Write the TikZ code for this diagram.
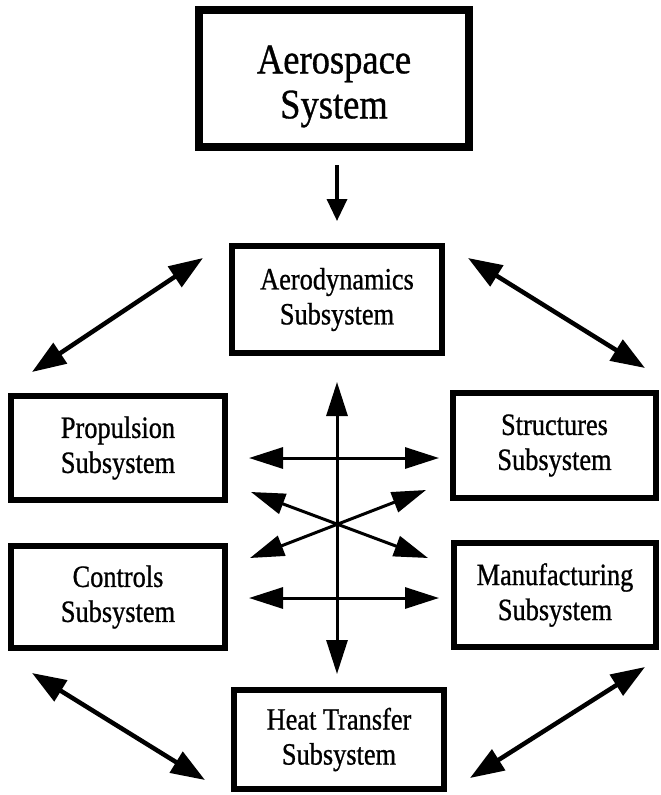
\documentclass[tikz,border=0pt]{standalone}
\usepackage{fontspec}
\setmainfont{Liberation Serif}
% narrow, slightly heavy Times-like faces for the box titles
\newfontfamily\sysfont[FakeStretch=0.87,FakeBold=0.8]{Liberation Serif}
\newfontfamily\subfont[FakeStretch=0.85,FakeBold=0.8]{Liberation Serif}
\usetikzlibrary{arrows.meta}
\begin{document}
\begin{tikzpicture}[x=1pt,y=-1pt,
  sysbox/.style={draw, line width=8pt, inner sep=0pt},
  systext/.style={inner sep=0pt, align=center,
    font=\sysfont\fontsize{42}{45}\selectfont},
  subbox/.style={draw, line width=6pt, inner sep=0pt, align=center,
    font=\subfont\fontsize{31}{35}\selectfont},
  link/.style={line width=4.5pt,
    {Triangle[length=34pt,width=24pt]}-{Triangle[length=34pt,width=24pt]}},
  cross/.style={line width=3pt,
    {Triangle[length=34pt,width=21pt]}-{Triangle[length=34pt,width=21pt]}},
  feed/.style={line width=3.5pt, -{Triangle[length=22pt,width=20pt]}}]
\useasboundingbox (0,0) rectangle (661,795);

% top level system
\node[sysbox, minimum width=270pt, minimum height=137pt] (sys) at (334,78.5) {};
\node[systext] (systitle) at ([yshift=-8pt]sys.center) {Aerospace\\System};

% subsystems
\node[subbox, minimum width=210pt, minimum height=107pt] (aero) at (337,299.5) {Aerodynamics\\Subsystem};
\node[subbox, minimum width=214pt, minimum height=104pt] (prop) at (118,448) {Propulsion\\Subsystem};
\node[subbox, minimum width=203pt, minimum height=105pt] (struct) at (554.5,445.5) {Structures\\Subsystem};
\node[subbox, minimum width=214pt, minimum height=102pt] (ctrl) at (118,597) {Controls\\Subsystem};
\node[subbox, minimum width=202pt, minimum height=104pt] (manuf) at (555,595) {Manufacturing\\Subsystem};
\node[subbox, minimum width=210pt, minimum height=99pt] (heat) at (339,739.5) {Heat Transfer\\Subsystem};

% arrow end points
\coordinate (sysout) at (337,165);
\coordinate (aeroin) at (337,221);
\coordinate (ulA) at (32,372);   \coordinate (ulB) at (203,258);
\coordinate (urA) at (468,258);  \coordinate (urB) at (645,368);
\coordinate (llA) at (32,673);   \coordinate (llB) at (205,780);
\coordinate (lrA) at (470,778);  \coordinate (lrB) at (645,667);
\coordinate (vTop) at (337,382); \coordinate (vBot) at (337,674);
\coordinate (h1L) at (249,458);  \coordinate (h1R) at (439,458);
\coordinate (h2L) at (249,598);  \coordinate (h2R) at (439,598);
\coordinate (x1A) at (251,492);  \coordinate (x1B) at (428,558);
\coordinate (x2A) at (250,558);  \coordinate (x2B) at (426,490);

% connectors
\draw[feed] (sysout) -- (aeroin);
\draw[link] (ulA) -- (ulB);
\draw[link] (urA) -- (urB);
\draw[link] (llA) -- (llB);
\draw[link] (lrA) -- (lrB);
\draw[cross] (vTop) -- (vBot);
\draw[cross] (h1L) -- (h1R);
\draw[cross] (h2L) -- (h2R);
\draw[cross] (x1A) -- (x1B);
\draw[cross] (x2A) -- (x2B);
\end{tikzpicture}
\end{document}
